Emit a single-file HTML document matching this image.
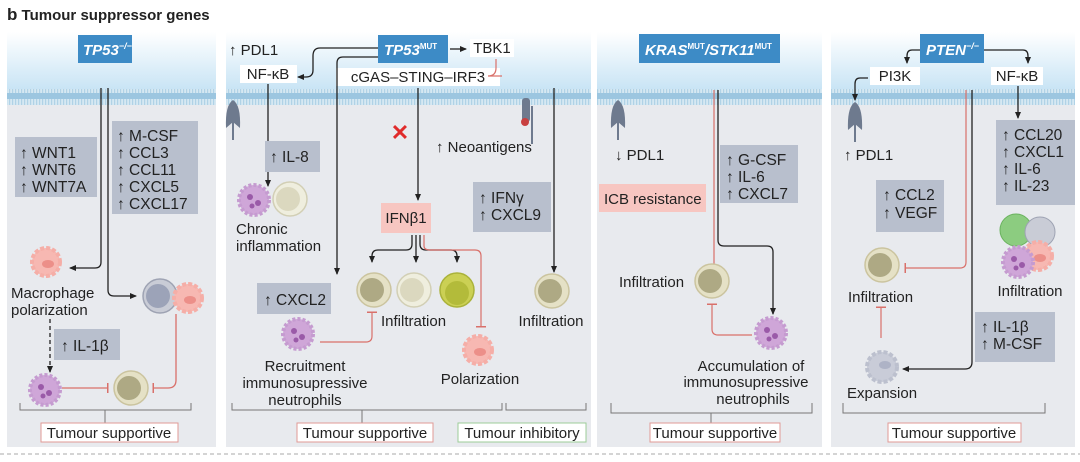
<!DOCTYPE html>
<html><head><meta charset="utf-8"><style>
html,body{margin:0;padding:0;background:#fff}
svg text{font-family:"Liberation Sans",sans-serif;fill:#222}
</style></head><body>
<svg width="1080" height="457" viewBox="0 0 1080 457" xmlns="http://www.w3.org/2000/svg">
<defs>
<linearGradient id="bg" x1="0" y1="0" x2="0" y2="1">
<stop offset="0" stop-color="#ffffff"/><stop offset="1" stop-color="#c4e2f4"/></linearGradient>
<pattern id="mem" width="3" height="16" patternUnits="userSpaceOnUse">
<rect width="3" height="16" fill="#d6e8f2"/><rect x="0" y="0" width="1.2" height="16" fill="#b0d2e6"/>
<rect x="0" y="0" width="3" height="3" fill="#9cc6e0"/><rect x="0" y="13" width="3" height="3" fill="#9cc6e0"/></pattern>
<marker id="a" markerWidth="8" markerHeight="8" refX="6" refY="4" orient="auto" markerUnits="userSpaceOnUse"><path d="M0,1 L7,4 L0,7z" fill="#222"/></marker>
<marker id="t" markerWidth="2" markerHeight="10" refX="1" refY="5" orient="auto" markerUnits="userSpaceOnUse"><rect x="0" y="0" width="1.5" height="10" fill="#d9706a"/></marker>
<g id="tc"><circle r="17" fill="#e5e1c6" stroke="#cbc49f" stroke-width="1.5"/><circle cx="-2" r="12" fill="#aea984"/></g>
<g id="tcl"><circle r="17" fill="#efeede" stroke="#d2cfb5" stroke-width="1.5"/><circle cx="-2" r="12" fill="#dbd8bf"/></g>
<g id="ty"><circle r="17" fill="#cbd054" stroke="#aab23a" stroke-width="1.5"/><circle cy="3" r="12" fill="#b3bb3a"/></g>
<g id="tg"><circle r="17" fill="#c9ccd6" stroke="#9ea3b3" stroke-width="1.5"/><circle cx="-2" r="12" fill="#9ca3b8"/></g>
<g id="ne"><circle r="15" fill="#cfa6d8" stroke="#c59bd0" stroke-width="4" stroke-dasharray="3 2"/><circle cx="-4" cy="-3" r="3" fill="#9a5aa8"/><circle cx="4" cy="3" r="3" fill="#9a5aa8"/><circle cx="-2" cy="6" r="2.5" fill="#9a5aa8"/></g>
<g id="ma"><circle r="14" fill="#f7b8b2" stroke="#f5aea7" stroke-width="4" stroke-dasharray="4 2"/><ellipse cx="2" cy="2" rx="6" ry="4" fill="#ec8f89"/></g>
<g id="rec"><path d="M-7,28 Q-8,5 0,0 Q8,5 7,28 L0,22z" fill="#6e7a8e"/><line x1="0" y1="22" x2="0" y2="40" stroke="#6e7a8e" stroke-width="2"/></g>
</defs>

<text x="7" y="20" font-size="15" font-weight="bold"><tspan font-size="17">b</tspan>  Tumour suppressor genes</text>

<g>
<rect x="7" y="32" width="209" height="415" fill="#e8eaee"/><rect x="7" y="32" width="209" height="62" fill="url(#bg)"/>
<rect x="226" y="32" width="365" height="415" fill="#e8eaee"/><rect x="226" y="32" width="365" height="62" fill="url(#bg)"/>
<rect x="597" y="32" width="225" height="415" fill="#e8eaee"/><rect x="597" y="32" width="225" height="62" fill="url(#bg)"/>
<rect x="831" y="32" width="244" height="415" fill="#e8eaee"/><rect x="831" y="32" width="244" height="62" fill="url(#bg)"/>
<rect x="7" y="89" width="209" height="16" fill="url(#mem)"/>
<rect x="226" y="89" width="365" height="16" fill="url(#mem)"/>
<rect x="597" y="89" width="225" height="16" fill="url(#mem)"/>
<rect x="831" y="89" width="244" height="16" fill="url(#mem)"/>
</g>
<line x1="0" y1="454" x2="1080" y2="454" stroke="#aaa" stroke-dasharray="4 3"/>

<!-- Panel 1 -->
<rect x="78" y="35" width="54" height="28" fill="#3d8bc6"/>
<text x="83" y="55" font-size="15" font-weight="bold" font-style="italic" style="fill:#fff">TP53<tspan font-size="9" dy="-6">−/−</tspan></text>
<rect x="15" y="137" width="82" height="60" fill="#b8bfcd"/>
<text font-size="15.5"><tspan x="20" y="158">↑ WNT1</tspan><tspan x="20" y="175">↑ WNT6</tspan><tspan x="20" y="192">↑ WNT7A</tspan></text>
<rect x="112" y="121" width="86" height="93" fill="#b8bfcd"/>
<text font-size="15.5"><tspan x="117" y="141">↑ M-CSF</tspan><tspan x="117" y="158">↑ CCL3</tspan><tspan x="117" y="175">↑ CCL11</tspan><tspan x="117" y="192">↑ CXCL5</tspan><tspan x="117" y="209">↑ CXCL17</tspan></text>
<path d="M101,88 V262 Q101,268 95,268 H70" fill="none" stroke="#222" stroke-width="1.3" marker-end="url(#a)"/>
<path d="M108,88 V290 Q108,296 114,296 H136" fill="none" stroke="#222" stroke-width="1.3" marker-end="url(#a)"/>
<use href="#ma" x="46" y="262"/>
<text x="11" y="298" font-size="15">Macrophage</text><text x="11" y="315" font-size="15">polarization</text>
<line x1="50" y1="319" x2="50" y2="372" stroke="#222" stroke-dasharray="4 3" stroke-width="1.3" marker-end="url(#a)"/>
<rect x="54" y="329" width="66" height="31" fill="#b8bfcd"/><text x="61" y="351" font-size="15.5">↑ IL-1β</text>
<use href="#tg" x="160" y="296"/><use href="#ma" x="188" y="298"/>
<use href="#ne" x="45" y="390"/><use href="#tc" x="131" y="388"/>
<line x1="62" y1="388" x2="108" y2="388" stroke="#d9706a" stroke-width="1.3" marker-end="url(#t)"/>
<path d="M176,314 V380 Q176,388 168,388 H153" fill="none" stroke="#d9706a" stroke-width="1.3" marker-end="url(#t)"/>
<path d="M20,403 V410 H191 V403 M105,410 V423" fill="none" stroke="#777"/>
<rect x="41" y="423" width="137" height="19" fill="#fff" stroke="#e09a95"/>
<text x="109" y="438" font-size="15" text-anchor="middle">Tumour supportive</text>

<!-- Panel 2 -->
<text x="229" y="55" font-size="15">↑ PDL1</text>
<use href="#rec" x="233" y="100"/>
<rect x="240" y="65" width="57" height="18" fill="#fff"/><text x="268" y="79" font-size="15" text-anchor="middle">NF-κB</text>
<rect x="378" y="35" width="70" height="28" fill="#3d8bc6"/>
<text x="384" y="55" font-size="15" font-weight="bold" font-style="italic" style="fill:#fff">TP53<tspan font-size="8" dy="-6" font-style="normal">MUT</tspan></text>
<line x1="450" y1="49" x2="466" y2="49" stroke="#222" stroke-width="1.3" marker-end="url(#a)"/>
<rect x="470" y="39" width="44" height="18" fill="#fff"/><text x="492" y="53" font-size="15" text-anchor="middle">TBK1</text>
<rect x="336" y="68" width="164" height="18" fill="#fff"/><text x="418" y="82" font-size="15" text-anchor="middle">cGAS–STING–IRF3</text>
<path d="M496,59 V68 Q496,76 488,76 H502" fill="none" stroke="#d9706a" stroke-width="1.2"/>
<path d="M378,48 H320 Q313,48 313,56 V70 Q313,77 306,77 H298" fill="none" stroke="#222" stroke-width="1.3" marker-end="url(#a)"/>
<path d="M378,57 H343 Q337,57 337,63 V274" fill="none" stroke="#222" stroke-width="1.3" marker-end="url(#a)"/>
<line x1="268" y1="84" x2="268" y2="186" stroke="#222" stroke-width="1.3" marker-end="url(#a)"/>
<line x1="418" y1="88" x2="418" y2="200" stroke="#222" stroke-width="1.3" marker-end="url(#a)"/>
<text x="400" y="140" font-size="22" font-weight="bold" text-anchor="middle" style="fill:#e02b2b">✕</text>
<text x="436" y="152" font-size="15">↑ Neoantigens</text>
<g transform="translate(526,98)"><rect x="-4" y="0" width="8" height="24" rx="3" fill="#6e7a8e"/><circle cx="-1" cy="24" r="4" fill="#c84040"/><line x1="6" y1="8" x2="6" y2="46" stroke="#6e7a8e" stroke-width="2"/></g>
<rect x="265" y="141" width="55" height="31" fill="#b8bfcd"/><text x="270" y="162" font-size="15.5">↑ IL-8</text>
<use href="#ne" x="254" y="200"/><use href="#tcl" x="290" y="199"/>
<text x="236" y="234" font-size="15">Chronic</text><text x="236" y="251" font-size="15">inflammation</text>
<rect x="381" y="203" width="50" height="30" fill="#f7c6c1"/><text x="406" y="223" font-size="15" text-anchor="middle">IFNβ1</text>
<path d="M412,235 V244 Q412,250 406,250 H378 Q372,250 372,256 V262" fill="none" stroke="#222" stroke-width="1.3" marker-end="url(#a)"/>
<line x1="416" y1="235" x2="416" y2="262" stroke="#222" stroke-width="1.3" marker-end="url(#a)"/>
<path d="M420,235 V244 Q420,250 426,250 H451 Q457,250 457,256 V262" fill="none" stroke="#222" stroke-width="1.3" marker-end="url(#a)"/>
<path d="M424,235 V246 Q424,250 430,250 H475 Q481,250 481,256 V327" fill="none" stroke="#d9706a" stroke-width="1.2" marker-end="url(#t)"/>
<use href="#tc" x="374" y="290"/><use href="#tcl" x="414" y="290"/><use href="#ty" x="457" y="290"/>
<text x="381" y="326" font-size="15">Infiltration</text>
<rect x="257" y="283" width="74" height="31" fill="#b8bfcd"/><text x="264" y="305" font-size="15.5">↑ CXCL2</text>
<use href="#ne" x="298" y="334"/>
<path d="M320,342 H366 Q372,342 372,336 V312" fill="none" stroke="#d9706a" stroke-width="1.2" marker-end="url(#t)"/>
<text font-size="15" text-anchor="middle"><tspan x="305" y="371">Recruitment</tspan><tspan x="305" y="388">immunosupressive</tspan><tspan x="305" y="405">neutrophils</tspan></text>
<use href="#ma" x="478" y="350"/>
<text x="480" y="384" font-size="15" text-anchor="middle">Polarization</text>
<rect x="473" y="182" width="78" height="50" fill="#b8bfcd"/>
<text font-size="15.5"><tspan x="479" y="203">↑ IFNγ</tspan><tspan x="479" y="220">↑ CXCL9</tspan></text>
<line x1="554" y1="88" x2="554" y2="272" stroke="#222" stroke-width="1.3" marker-end="url(#a)"/>
<use href="#tc" x="552" y="291"/>
<text x="551" y="326" font-size="15" text-anchor="middle">Infiltration</text>
<path d="M232,403 V410 H502 V403 M362,410 V423" fill="none" stroke="#777"/>
<path d="M506,403 V410 H586 V403" fill="none" stroke="#777"/>
<rect x="297" y="423" width="136" height="19" fill="#fff" stroke="#e09a95"/>
<text x="365" y="438" font-size="15" text-anchor="middle">Tumour supportive</text>
<rect x="458" y="423" width="128" height="19" fill="#fff" stroke="#9ccc98"/>
<text x="522" y="438" font-size="15" text-anchor="middle">Tumour inhibitory</text>

<!-- Panel 3 -->
<rect x="639" y="34" width="141" height="29" fill="#3d8bc6"/>
<text x="645" y="55" font-size="15" font-weight="bold" font-style="italic" style="fill:#fff">KRAS<tspan font-size="8" dy="-6" font-style="normal">MUT</tspan><tspan dy="6">/STK11</tspan><tspan font-size="8" dy="-6" font-style="normal">MUT</tspan></text>
<use href="#rec" x="618" y="100"/>
<text x="615" y="160" font-size="15">↓ PDL1</text>
<rect x="599" y="184" width="107" height="28" fill="#f7c6c1"/><text x="604" y="204" font-size="15">ICB resistance</text>
<rect x="720" y="145" width="78" height="58" fill="#b8bfcd"/>
<text font-size="15.5"><tspan x="726" y="165">↑ G-CSF</tspan><tspan x="726" y="182">↑ IL-6</tspan><tspan x="726" y="199">↑ CXCL7</tspan></text>
<line x1="714" y1="90" x2="714" y2="270" stroke="#d9706a" stroke-width="1.2" marker-end="url(#t)"/>
<path d="M718,90 V240 Q718,246 724,246 H767 Q773,246 773,252 V314" fill="none" stroke="#222" stroke-width="1.3" marker-end="url(#a)"/>
<use href="#tc" x="712" y="281"/>
<text x="619" y="287" font-size="15">Infiltration</text>
<path d="M752,335 H718 Q712,335 712,329 V304" fill="none" stroke="#d9706a" stroke-width="1.2" marker-end="url(#t)"/>
<use href="#ne" x="771" y="333"/>
<text font-size="15" text-anchor="middle"><tspan x="751" y="371">Accumulation of</tspan><tspan x="746" y="387">immunosupressive</tspan><tspan x="753" y="404">neutrophils</tspan></text>
<path d="M611,403 V413 H812 V403 M711,413 V423" fill="none" stroke="#777"/>
<rect x="650" y="423" width="130" height="19" fill="#fff" stroke="#e09a95"/>
<text x="715" y="438" font-size="15" text-anchor="middle">Tumour supportive</text>

<!-- Panel 4 -->
<rect x="920" y="34" width="64" height="29" fill="#3d8bc6"/>
<text x="926" y="55" font-size="15" font-weight="bold" font-style="italic" style="fill:#fff">PTEN<tspan font-size="9" dy="-6">−/−</tspan></text>
<path d="M920,50 H912 Q907,50 907,56 V63" fill="none" stroke="#222" stroke-width="1.3" marker-end="url(#a)"/>
<path d="M984,50 H1023 Q1028,50 1028,56 V63" fill="none" stroke="#222" stroke-width="1.3" marker-end="url(#a)"/>
<rect x="870" y="67" width="50" height="18" fill="#fff"/><text x="895" y="81" font-size="15" text-anchor="middle">PI3K</text>
<rect x="991" y="67" width="52" height="18" fill="#fff"/><text x="1017" y="81" font-size="15" text-anchor="middle">NF-κB</text>
<path d="M868,78 H860 Q855,78 855,84 V100" fill="none" stroke="#222" stroke-width="1.3" marker-end="url(#a)"/>
<line x1="1018" y1="86" x2="1018" y2="118" stroke="#222" stroke-width="1.3" marker-end="url(#a)"/>
<use href="#rec" x="855" y="102"/>
<text x="844" y="160" font-size="15">↑ PDL1</text>
<rect x="996" y="120" width="79" height="85" fill="#b8bfcd"/>
<text font-size="15.5"><tspan x="1002" y="140">↑ CCL20</tspan><tspan x="1002" y="157">↑ CXCL1</tspan><tspan x="1002" y="174">↑ IL-6</tspan><tspan x="1002" y="191">↑ IL-23</tspan></text>
<rect x="876" y="180" width="68" height="52" fill="#b8bfcd"/>
<text font-size="15.5"><tspan x="883" y="200">↑ CCL2</tspan><tspan x="883" y="218">↑ VEGF</tspan></text>
<path d="M966,90 V262 Q966,268 960,268 H905" fill="none" stroke="#d9706a" stroke-width="1.2" marker-end="url(#t)"/>
<path d="M972,90 V362 Q972,369 965,369 H903" fill="none" stroke="#222" stroke-width="1.3" marker-end="url(#a)"/>
<use href="#tc" x="882" y="265"/>
<text x="848" y="302" font-size="15">Infiltration</text>
<line x1="881" y1="338" x2="881" y2="307" stroke="#d9706a" stroke-width="1.2" marker-end="url(#t)"/>
<g transform="translate(882,367)"><circle r="15" fill="#c9ccd8" stroke="#bcc0ce" stroke-width="4" stroke-dasharray="4 2"/><ellipse cx="3" cy="-2" rx="6" ry="4" fill="#aeb3c6"/></g>
<text x="847" y="398" font-size="15">Expansion</text>
<circle cx="1016" cy="230" r="16" fill="#8ccc80" stroke="#6ab25e"/><circle cx="1040" cy="232" r="15" fill="#c9ccd6" stroke="#9ea3b3"/>
<use href="#ma" x="1038" y="256"/><use href="#ne" x="1018" y="262"/>
<text x="1030" y="296" font-size="15" text-anchor="middle">Infiltration</text>
<rect x="975" y="312" width="80" height="50" fill="#b8bfcd"/>
<text font-size="15.5"><tspan x="981" y="332">↑ IL-1β</tspan><tspan x="981" y="349">↑ M-CSF</tspan></text>
<path d="M843,403 V413 H1045 V403" fill="none" stroke="#777"/>
<rect x="888" y="423" width="133" height="19" fill="#fff" stroke="#e09a95"/>
<text x="954" y="438" font-size="15" text-anchor="middle">Tumour supportive</text>
</svg>
</body></html>
